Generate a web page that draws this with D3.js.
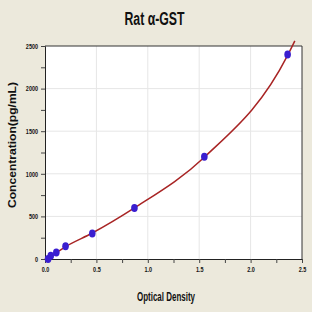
<!DOCTYPE html>
<html>
<head>
<meta charset="utf-8">
<script src="https://cdn.jsdelivr.net/npm/d3@7"></script>
<style>
  body { margin: 0; background: #ece9dc; }
  svg { display: block; }
  text { font-family: "Liberation Sans Narrow", "Arial Narrow", "Liberation Sans", sans-serif; font-weight: bold; }
</style>
</head>
<body>
<svg id="chart"></svg>
<script>
const width = 312,
  height = 312;

// standard points
const od = [0.03, 0.056, 0.11, 0.2, 0.46, 0.87, 1.55, 2.36];
const conc = [0, 37.5, 75, 150, 300, 600, 1200, 2400];
// fitted curve
const fitOd = [0, 0.056, 0.11, 0.2, 0.46, 0.87, 1.55, 2.36, 2.43];
const fitConc = [0, 37.5, 75, 145, 305, 600, 1195, 2390, 2560];

const xTicks = [0, 0.5, 1, 1.5, 2, 2.5];
const yTicks = [0, 500, 1000, 1500, 2000, 2500];

const margin = { top: 46, right: 10, bottom: 53, left: 45 };

const svg = d3
  .select("#chart")
  .attr("width", width)
  .attr("height", height);

const x = d3
  .scaleLinear()
  .domain([0, 2.5])
  .range([margin.left, width - margin.right]);
const y = d3
  .scaleLinear()
  .domain([0, 2500])
  .range([height - margin.bottom, margin.top]);

// squeeze text to look like a narrow face
const narrow = (sel, w) =>
  sel.attr("textLength", w).attr("lengthAdjust", "spacingAndGlyphs");
const squeeze = (sel, k) =>
  sel.each(function() {
    const w = this.getComputedTextLength();
    if (w > 0) narrow(d3.select(this), w * k);
  });

svg
  .append("rect")
  .attr("x", x(0))
  .attr("y", y(2500))
  .attr("width", x(2.5) - x(0))
  .attr("height", y(0) - y(2500))
  .style("fill", "#fff");

// grid
svg
  .append("g")
  .selectAll("line")
  .data(xTicks.slice(1, -1))
  .enter()
  .append("line")
  .attr("x1", d => x(d))
  .attr("x2", d => x(d))
  .attr("y1", y(0))
  .attr("y2", y(2500))
  .style("stroke", "#e6e6e6");
svg
  .append("g")
  .selectAll("line")
  .data(yTicks.slice(1, -1))
  .enter()
  .append("line")
  .attr("x1", x(0))
  .attr("x2", x(2.5))
  .attr("y1", d => y(d))
  .attr("y2", d => y(d))
  .style("stroke", "#e6e6e6");

// axes
const xAxis = svg
  .append("g")
  .attr("transform", `translate(0,${y(0)})`)
  .call(
    d3
      .axisBottom(x)
      .tickValues(d3.range(0, 2.51, 0.25))
      .tickSize(4)
      .tickFormat(d => (xTicks.includes(d) ? d3.format(".1f")(d) : ""))
  );
const yAxis = svg
  .append("g")
  .attr("transform", `translate(${x(0)},0)`)
  .call(
    d3
      .axisLeft(y)
      .tickValues(d3.range(0, 2501, 250))
      .tickSize(4)
      .tickFormat(d => (yTicks.includes(d) ? d : ""))
  );
[xAxis, yAxis].forEach(a => {
  a.select(".domain").style("stroke", "#222");
  a.selectAll(".tick line").style("stroke", "#444");
  a.selectAll("text")
    .style("font-size", "7px")
    .style("fill", "#111")
    .call(squeeze, 0.78);
});
xAxis.selectAll("text").attr("dy", "0.9em");

// top/right frame
svg
  .append("path")
  .attr("d", `M${x(0)},${y(2500)}H${x(2.5)}V${y(0)}`)
  .style("fill", "none")
  .style("stroke", "#333");

// fit line
const line = d3
  .line()
  .x(d => x(fitOd[d]))
  .y(d => y(fitConc[d]))
  .curve(d3.curveMonotoneX);
svg
  .append("path")
  .datum(d3.range(fitOd.length))
  .attr("d", line)
  .style("fill", "none")
  .style("stroke", "#a82424")
  .style("stroke-width", 1.5);

// points
svg
  .append("g")
  .selectAll("ellipse")
  .data(d3.range(od.length))
  .enter()
  .append("ellipse")
  .attr("cx", d => x(od[d]))
  .attr("cy", d => y(conc[d]))
  .attr("rx", 3.3)
  .attr("ry", 4)
  .style("fill", "#3a1ed0");

// titles
svg
  .append("text")
  .attr("x", 154.5)
  .attr("y", 25)
  .attr("text-anchor", "middle")
  .style("font-size", "18px")
  .style("fill", "#111")
  .text("Rat α-GST")
  .call(narrow, 60);
svg
  .append("text")
  .attr("x", 166)
  .attr("y", 301)
  .attr("text-anchor", "middle")
  .style("font-size", "12.5px")
  .style("fill", "#111")
  .text("Optical Density")
  .call(narrow, 58);
svg
  .append("text")
  .attr("transform", "translate(15.5,145) rotate(-90)")
  .attr("text-anchor", "middle")
  .style("font-size", "11px")
  .style("fill", "#111")
  .text("Concentration(pg/mL)")
  .call(narrow, 126);
</script>
</body>
</html>
